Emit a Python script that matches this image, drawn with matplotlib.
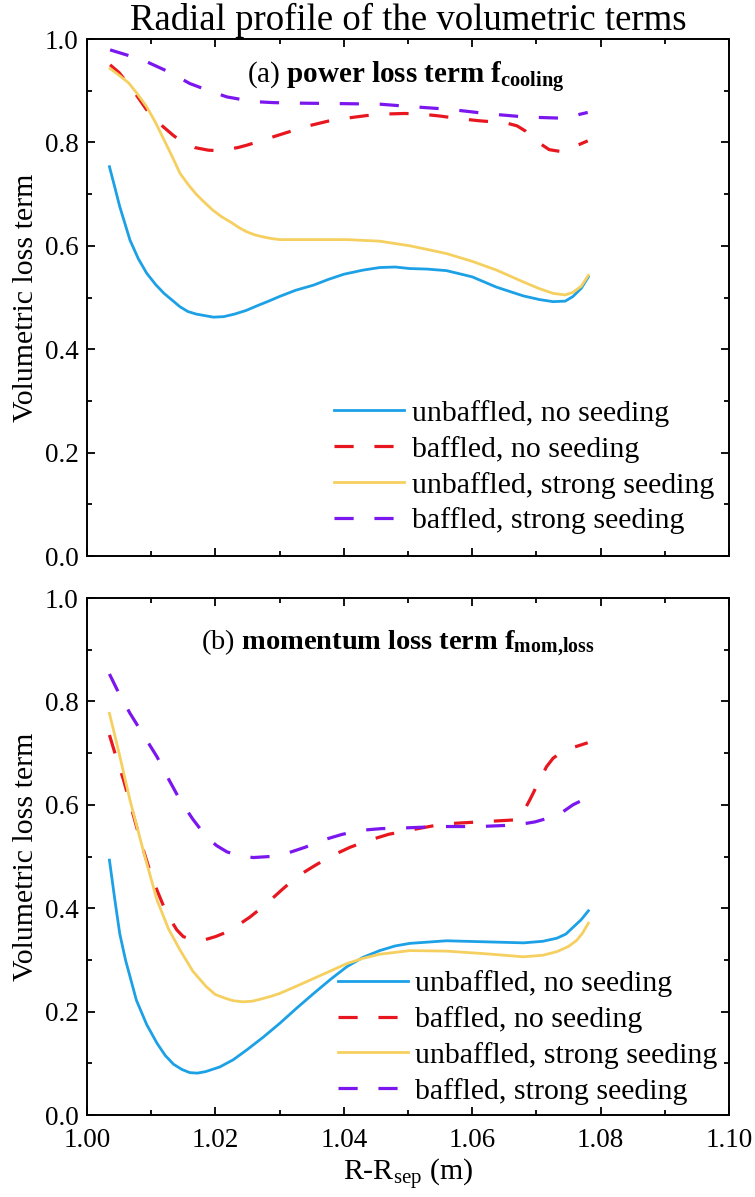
import numpy as np
import matplotlib
matplotlib.use("Agg")
import matplotlib.pyplot as plt
from matplotlib.ticker import MultipleLocator

plt.rcParams['font.family'] = ['Liberation Serif', 'DejaVu Serif']
plt.rcParams['mathtext.fontset'] = 'custom'
plt.rcParams['mathtext.rm'] = 'Liberation Serif'
plt.rcParams['mathtext.it'] = 'Liberation Serif:italic'
plt.rcParams['mathtext.bf'] = 'Liberation Serif:bold'

labels = ["unbaffled, no seeding", "baffled, no seeding",
          "unbaffled, strong seeding", "baffled, strong seeding"]
colors = ['#1CA0E6', '#E8161E', '#F5D060', '#7B16EE']

# (a) power loss term
x_a_unb_no = [1.0035, 1.0043, 1.0051, 1.0067, 1.0080, 1.0093, 1.0107, 1.0120, 1.0145, 1.0157,
              1.0170, 1.0197, 1.0213, 1.0230, 1.0248, 1.0265, 1.0283, 1.0300, 1.0325, 1.0353,
              1.0376, 1.0400, 1.0430, 1.0456, 1.0480, 1.0503, 1.0530, 1.0560, 1.0600, 1.0638,
              1.0680, 1.0705, 1.0726, 1.0745, 1.0757, 1.0770, 1.0781]
y_a_unb_no = [0.753, 0.715, 0.676, 0.611, 0.575, 0.547, 0.525, 0.508, 0.482, 0.473,
              0.468, 0.462, 0.463, 0.468, 0.475, 0.484, 0.493, 0.502, 0.514, 0.524,
              0.535, 0.545, 0.553, 0.558, 0.559, 0.556, 0.555, 0.552, 0.540, 0.520,
              0.503, 0.496, 0.492, 0.493, 0.502, 0.518, 0.540]
x_a_baf_no = [1.0036, 1.0050, 1.0065, 1.0079, 1.0093, 1.0106, 1.0119, 1.0135, 1.0150, 1.0168,
              1.0189, 1.0205, 1.0220, 1.0235, 1.0250, 1.0268, 1.0288, 1.0316, 1.0345, 1.0375,
              1.0405, 1.0436, 1.0467, 1.0495, 1.0520, 1.0550, 1.0580, 1.0610, 1.0640, 1.0655,
              1.0670, 1.0683, 1.0695, 1.0708, 1.0720, 1.0740, 1.0765, 1.0780]
y_a_baf_no = [0.950, 0.935, 0.912, 0.888, 0.863, 0.845, 0.830, 0.813, 0.800, 0.790,
              0.785, 0.784, 0.787, 0.790, 0.795, 0.802, 0.810, 0.821, 0.832, 0.841,
              0.847, 0.852, 0.855, 0.856, 0.855, 0.851, 0.846, 0.842, 0.839, 0.837,
              0.832, 0.822, 0.808, 0.796, 0.786, 0.782, 0.795, 0.803]
x_a_unb_st = [1.0036, 1.0050, 1.0065, 1.0079, 1.0093, 1.0107, 1.0120, 1.0133, 1.0145, 1.0158,
              1.0170, 1.0183, 1.0196, 1.0210, 1.0225, 1.0237, 1.0249, 1.0262, 1.0275, 1.0288,
              1.0300, 1.0350, 1.0405, 1.0456, 1.0503, 1.0530, 1.0560, 1.0600, 1.0638, 1.0680,
              1.0705, 1.0726, 1.0745, 1.0757, 1.0770, 1.0781]
y_a_unb_st = [0.943, 0.930, 0.915, 0.893, 0.869, 0.838, 0.805, 0.772, 0.740, 0.718,
              0.700, 0.684, 0.669, 0.656, 0.645, 0.635, 0.627, 0.621, 0.617, 0.614,
              0.612, 0.612, 0.612, 0.609, 0.600, 0.593, 0.585, 0.570, 0.553, 0.530,
              0.517, 0.508, 0.505, 0.510, 0.522, 0.543]
x_a_baf_st = [1.0036, 1.0065, 1.0093, 1.0130, 1.0160, 1.0190, 1.0218, 1.0259, 1.0290, 1.0327,
              1.0400, 1.0456, 1.0508, 1.0565, 1.0628, 1.0685, 1.0737, 1.0763, 1.0780]
y_a_baf_st = [0.979, 0.968, 0.956, 0.935, 0.914, 0.900, 0.888, 0.879, 0.877, 0.876,
              0.875, 0.874, 0.869, 0.864, 0.855, 0.849, 0.847, 0.853, 0.858]

# (b) momentum loss term
x_b_unb_no = [1.0035, 1.0043, 1.0051, 1.0060, 1.0077, 1.0093, 1.0109, 1.0122, 1.0135, 1.0148,
              1.0160, 1.0172, 1.0185, 1.0207, 1.0228, 1.0249, 1.0275, 1.0300, 1.0326, 1.0353,
              1.0380, 1.0405, 1.0430, 1.0456, 1.0480, 1.0503, 1.0560, 1.0620, 1.0680, 1.0710,
              1.0732, 1.0746, 1.0758, 1.0770, 1.0781]
y_b_unb_no = [0.493, 0.420, 0.351, 0.300, 0.222, 0.175, 0.139, 0.115, 0.098, 0.088,
              0.082, 0.081, 0.084, 0.093, 0.107, 0.126, 0.151, 0.177, 0.206, 0.235,
              0.263, 0.287, 0.305, 0.318, 0.327, 0.332, 0.337, 0.335, 0.333, 0.336,
              0.342, 0.350, 0.364, 0.378, 0.395]
x_b_baf_no = [1.0035, 1.0046, 1.0057, 1.0070, 1.0083, 1.0096, 1.0109, 1.0124, 1.0140, 1.0150,
              1.0168, 1.0181, 1.0200, 1.0214, 1.0228, 1.0254, 1.0280, 1.0303, 1.0327, 1.0353,
              1.0379, 1.0410, 1.0441, 1.0470, 1.0503, 1.0555, 1.0612, 1.0669, 1.0675, 1.0680,
              1.0690, 1.0700, 1.0708, 1.0716, 1.0726, 1.0737, 1.0748, 1.0760, 1.0770, 1.0780]
y_b_baf_no = [0.735, 0.690, 0.648, 0.590, 0.532, 0.480, 0.435, 0.390, 0.358, 0.345,
              0.338, 0.338, 0.345, 0.352, 0.361, 0.383, 0.409, 0.435, 0.461, 0.481,
              0.500, 0.518, 0.532, 0.543, 0.551, 0.563, 0.567, 0.571, 0.577, 0.587,
              0.610, 0.635, 0.655, 0.674, 0.690, 0.700, 0.707, 0.712, 0.716, 0.720]
x_b_unb_st = [1.0035, 1.0050, 1.0067, 1.0088, 1.0109, 1.0127, 1.0145, 1.0165, 1.0186, 1.0200,
              1.0215, 1.0228, 1.0243, 1.0257, 1.0270, 1.0285, 1.0300, 1.0326, 1.0353, 1.0380,
              1.0405, 1.0430, 1.0456, 1.0503, 1.0560, 1.0620, 1.0680, 1.0710, 1.0732, 1.0750,
              1.0763, 1.0772, 1.0781]
y_b_unb_st = [0.777, 0.700, 0.609, 0.510, 0.416, 0.360, 0.319, 0.278, 0.248, 0.233,
              0.226, 0.221, 0.219, 0.220, 0.224, 0.229, 0.235, 0.249, 0.264, 0.279,
              0.293, 0.303, 0.311, 0.318, 0.317, 0.312, 0.306, 0.309, 0.316, 0.326,
              0.338, 0.352, 0.371]
x_b_baf_st = [1.0035, 1.0050, 1.0067, 1.0088, 1.0109, 1.0127, 1.0145, 1.0165, 1.0186, 1.0202,
              1.0218, 1.0238, 1.0259, 1.0285, 1.0311, 1.0340, 1.0368, 1.0398, 1.0430, 1.0459,
              1.0488, 1.0550, 1.0612, 1.0669, 1.0698, 1.0726, 1.0742, 1.0757, 1.0770, 1.0781]
y_b_baf_st = [0.853, 0.815, 0.777, 0.735, 0.693, 0.650, 0.609, 0.572, 0.538, 0.521,
              0.509, 0.501, 0.498, 0.500, 0.506, 0.518, 0.532, 0.543, 0.551, 0.554,
              0.555, 0.558, 0.558, 0.561, 0.567, 0.577, 0.587, 0.600, 0.608, 0.616]

panel_a = [(x_a_unb_no, y_a_unb_no), (x_a_baf_no, y_a_baf_no),
           (x_a_unb_st, y_a_unb_st), (x_a_baf_st, y_a_baf_st)]
panel_b = [(x_b_unb_no, y_b_unb_no), (x_b_baf_no, y_b_baf_no),
           (x_b_unb_st, y_b_unb_st), (x_b_baf_st, y_b_baf_st)]

styles = ['-', (0, (6, 6.5)), '-', (0, (6, 6.5))]
widths = [2.0, 2.3, 2.0, 2.3]

fig = plt.figure(figsize=(7.55, 11.97), dpi=100)
ax_a = fig.add_axes([0.1152, 0.5355, 0.8503, 0.4319])
ax_b = fig.add_axes([0.1152, 0.0685, 0.8503, 0.4319])


def style_axes(ax, show_xlabels):
    ax.set_xlim(1.0, 1.1)
    ax.set_ylim(0.0, 1.0)
    ax.xaxis.set_major_locator(MultipleLocator(0.02))
    ax.xaxis.set_minor_locator(MultipleLocator(0.01))
    ax.yaxis.set_major_locator(MultipleLocator(0.2))
    ax.yaxis.set_minor_locator(MultipleLocator(0.1))
    ax.tick_params(which='both', direction='in', top=True, right=True, width=1.3,
                   labelsize=19.5)
    ax.tick_params(which='major', length=6, pad=6)
    ax.tick_params(which='minor', length=3.5)
    ax.tick_params(axis='x', which='major', pad=9)
    ax.yaxis.set_major_formatter(plt.FuncFormatter(lambda v, p: f"{v:.1f}"))
    if show_xlabels:
        ax.xaxis.set_major_formatter(plt.FuncFormatter(lambda v, p: f"{v:.2f}"))
    else:
        ax.tick_params(labelbottom=False)
    for s in ax.spines.values():
        s.set_linewidth(1.4)
    ax.set_ylabel("Volumetric loss term", fontsize=21.5)
    ax.yaxis.set_label_coords(-0.074, 0.5)


for ax, panel in [(ax_a, panel_a), (ax_b, panel_b)]:
    for (xs, ys), lab, c, ls, lw in zip(panel, labels, colors, styles, widths):
        ax.plot(xs, ys, color=c, linestyle=ls, linewidth=lw, label=lab,
                solid_joinstyle='round', dash_joinstyle='round')

style_axes(ax_a, False)
style_axes(ax_b, True)

ax_a.text(0.497, 0.926, r"(a) $\mathbf{power\ loss\ term\ f}_{\mathbf{cooling}}$",
          transform=ax_a.transAxes, ha='center', va='center', fontsize=21)
ax_b.text(0.484, 0.913, r"(b) $\mathbf{momentum\ loss\ term\ f}_{\mathbf{mom{,}loss}}$",
          transform=ax_b.transAxes, ha='center', va='center', fontsize=20.5)

leg_kw = dict(frameon=False, fontsize=21.5, borderpad=0, handlelength=2.35,
              handletextpad=0.25, labelspacing=0.3, loc='center left')
ax_a.legend(bbox_to_anchor=(0.362, 0.172), **leg_kw)
ax_b.legend(bbox_to_anchor=(0.367, 0.150), **leg_kw)

ax_b.set_xlabel(r"R-R$_{\mathrm{sep}}$ (m)", fontsize=21.5, labelpad=3)

fig.text(0.5404, 0.983, "Radial profile of the volumetric terms", ha='center', va='center',
         fontsize=26.5)

fig.savefig("out.png", dpi=100)
